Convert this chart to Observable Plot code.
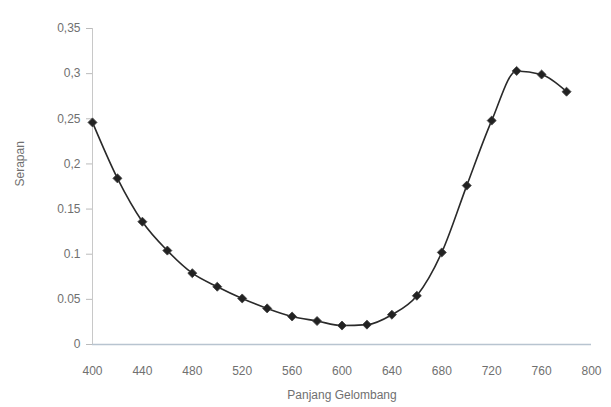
<!DOCTYPE html>
<html>
<head>
<meta charset="utf-8">
<script src="https://cdn.jsdelivr.net/npm/d3@7"></script>
<script src="https://cdn.jsdelivr.net/npm/@observablehq/plot@0.6"></script>
<style>
  html, body { margin: 0; padding: 0; background: #fff; }
  #chart svg { display: block; }
</style>
</head>
<body>
<div id="chart"></div>
<script>
// Wavelength (nm)
const wavelengths = [400, 420, 440, 460, 480, 500, 520, 540, 560, 580, 600, 620, 640, 660, 680, 700, 720, 740, 760, 780];
// Absorbance (Serapan)
const absorbance = [0.246, 0.184, 0.136, 0.104, 0.079, 0.064, 0.051, 0.040, 0.031, 0.026, 0.021, 0.022, 0.033, 0.054, 0.102, 0.176, 0.248, 0.303, 0.299, 0.280];
// Tick values and labels as printed
const xTicks = [400, 440, 480, 520, 560, 600, 640, 680, 720, 760, 800];
const yTicks = [0, 0.05, 0.1, 0.15, 0.2, 0.25, 0.3, 0.35];
const yTickLabels = ["0", "0.05", "0.1", "0.15", "0,2", "0,25", "0,3", "0,35"];
const xTitle = "Panjang Gelombang";
const yTitle = "Serapan";

const data = wavelengths.map((w, i) => ({w, a: absorbance[i]}));

const chart = Plot.plot({
  width: 611,
  height: 407,
  marginLeft: 92,
  marginRight: 20,
  marginTop: 28,
  marginBottom: 63,
  style: {fontFamily: "'Liberation Sans', Arial, sans-serif", fontSize: "12px", color: "#707070", background: "#fff"},
  x: {domain: [400, 800]},
  y: {domain: [0, 0.35]},
  marks: [
    Plot.axisX({ticks: xTicks, tickFormat: d => String(d), tickSize: 0, tickPadding: 22, label: null, letterSpacing: "0.5px"}),
    Plot.axisY({ticks: yTicks, tickFormat: d => yTickLabels[yTicks.indexOf(d)] ?? String(d), tickSize: 6, tickPadding: 6, label: null, stroke: "#bbb"}),
    Plot.text([xTitle], {frameAnchor: "bottom", dy: 54, fill: "#707070", fontSize: 12, letterSpacing: "0.5px"}),
    Plot.text([yTitle], {frameAnchor: "left", dx: -72, rotate: -90, fill: "#707070", fontSize: 12, letterSpacing: "0.5px"}),
    Plot.ruleX([400], {stroke: "#c8c8c8"}),
    Plot.ruleY([0], {stroke: "#b8c4d0", strokeWidth: 1.5}),
    Plot.line(data, {x: "w", y: "a", curve: "monotone-x", stroke: "#2a2a2a", strokeWidth: 1.6}),
    Plot.dot(data, {x: "w", y: "a", symbol: "square", rotate: 45, r: 3.6, fill: "#222", stroke: "#444", strokeWidth: 0.8})
  ]
});
document.getElementById("chart").appendChild(chart);
</script>
</body>
</html>
